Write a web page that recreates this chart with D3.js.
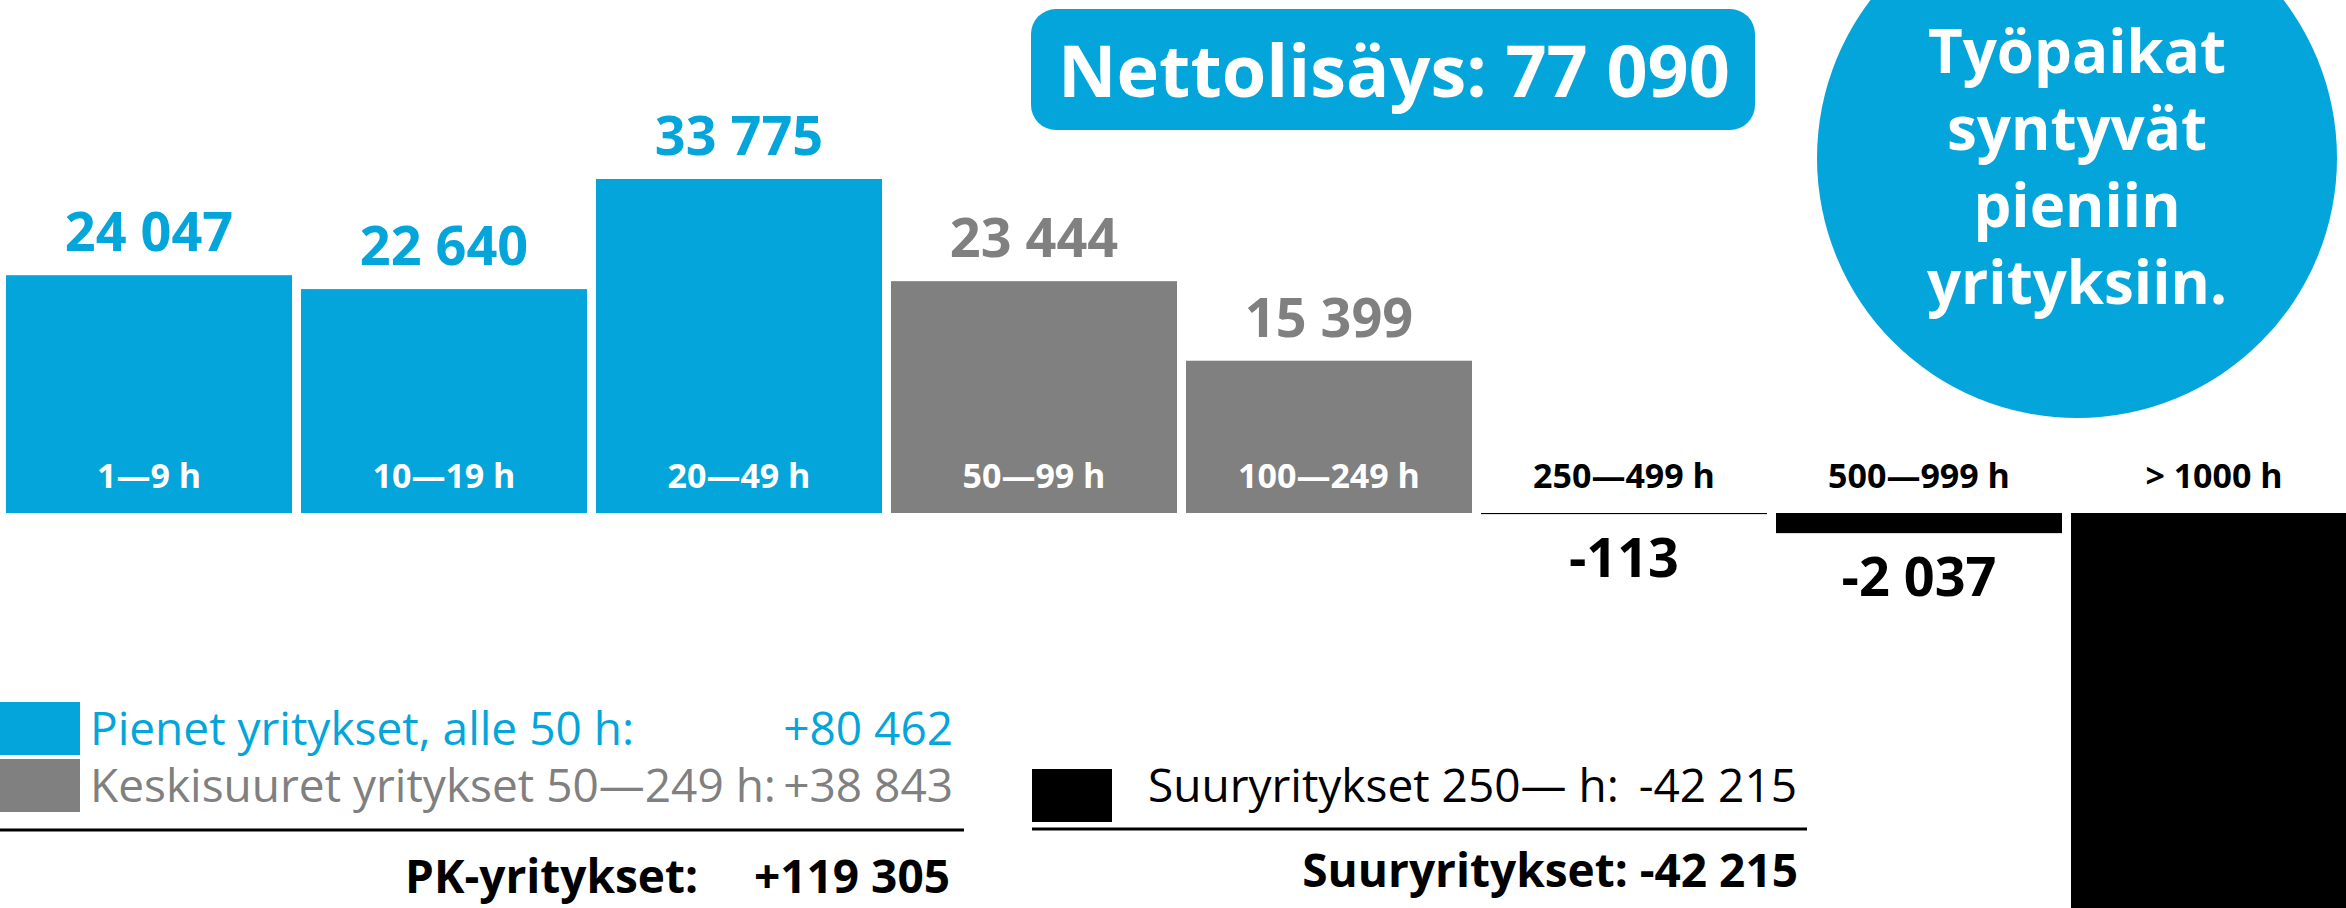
<!DOCTYPE html>
<html>
<head>
<meta charset="utf-8">
<script src="https://cdn.jsdelivr.net/npm/d3@7"></script>
<style>
  body { margin: 0; background: #fff; }
  svg { display: block; font-family: "Open Sans", sans-serif; }
</style>
</head>
<body>
<div id="chart"></div>
<script>
// job change by company size (henkilöä)
var categories = ["1—9 h", "10—19 h", "20—49 h", "50—99 h", "100—249 h", "250—499 h", "500—999 h", "> 1000 h"];
var values = [24047, 22640, 33775, 23444, 15399, -113, -2037, -40065];
var groups = ["pieni", "pieni", "pieni", "keski", "keski", "suuri", "suuri", "suuri"];

var legendGroups = ["pieni", "keski", "suuri"];
var legendLabels = ["Pienet yritykset, alle 50 h:", "Keskisuuret yritykset 50—249 h:", "Suuryritykset 250— h:"];
var headline = "Nettolisäys: ";
var bubbleLines = ["Työpaikat", "syntyvät", "pieniin", "yrityksiin."];

var width = 2346, height = 908;

var color = d3.scaleOrdinal()
    .domain(["pieni", "keski", "suuri"])
    .range(["#03a5da", "#808080", "#000000"]);

var fi = d3.formatLocale({decimal: ",", thousands: "\u00a0", grouping: [3], currency: ["", ""], minus: "-"});
var fmt = fi.format(",d");
var fmtSigned = function(v) { return (v > 0 ? "+" : "") + fmt(v); };

var data = categories.map(function(c, i) {
  return {cat: c, value: values[i], group: groups[i]};
});

var x = d3.scaleBand()
    .domain(categories)
    .range([6, 2357])
    .paddingInner(0.0305)
    .paddingOuter(0);

var y = d3.scaleLinear()
    .domain([0, 33775])
    .range([513, 179]);

var svg = d3.select("#chart").append("svg")
    .attr("width", width)
    .attr("height", height);

// bars
svg.selectAll(".bar")
    .data(data)
  .enter().append("rect")
    .attr("class", "bar")
    .attr("x", function(d) { return x(d.cat); })
    .attr("width", x.bandwidth())
    .attr("y", function(d) { return y(Math.max(0, d.value)); })
    .attr("height", function(d) { return Math.max(1, Math.abs(y(d.value) - y(0))); })
    .style("fill", function(d) { return color(d.group); });

// value labels (the big bar runs off the page, so its label is not shown)
function valY(d) { return d.value >= 0 ? y(d.value) - 24 : y(d.value) + 63; }

svg.selectAll(".val")
    .data(data.filter(function(d) { return valY(d) < height; }))
  .enter().append("text")
    .attr("class", "val")
    .attr("x", function(d) { return x(d.cat) + x.bandwidth() / 2; })
    .attr("y", valY)
    .attr("text-anchor", "middle")
    .style("font-size", "54px")
    .style("font-weight", "bold")
    .style("fill", function(d) { return color(d.group); })
    .text(function(d) { return fmt(d.value); });

// category labels
svg.selectAll(".cat")
    .data(data)
  .enter().append("text")
    .attr("class", "cat")
    .attr("x", function(d) { return x(d.cat) + x.bandwidth() / 2; })
    .attr("y", y(0) - 25)
    .attr("text-anchor", "middle")
    .style("font-size", "34px")
    .style("font-weight", "bold")
    .style("fill", function(d) { return d.value >= 0 ? "#fff" : "#000"; })
    .text(function(d) { return d.cat; });

// totals
var totals = legendGroups.map(function(g) {
  return d3.sum(data.filter(function(d) { return d.group == g; }), function(d) { return d.value; });
});
var pkTotal = totals[0] + totals[1];
var net = d3.sum(values);

// headline box
svg.append("rect")
    .attr("x", 1031).attr("y", 9)
    .attr("width", 724).attr("height", 121)
    .attr("rx", 25)
    .style("fill", color("pieni"));
svg.append("text")
    .attr("x", 1394).attr("y", 97)
    .attr("text-anchor", "middle")
    .style("font-size", "72px")
    .style("font-weight", "bold")
    .style("fill", "#fff")
    .text(headline + fmt(net));

// bubble
svg.append("circle")
    .attr("cx", 2077).attr("cy", 158).attr("r", 260)
    .style("fill", color("pieni"));
svg.selectAll(".bub")
    .data(bubbleLines)
  .enter().append("text")
    .attr("class", "bub")
    .attr("x", 2077)
    .attr("y", function(d, i) { return 73 + i * 77; })
    .attr("text-anchor", "middle")
    .style("font-size", "60px")
    .style("font-weight", "bold")
    .style("fill", "#fff")
    .text(function(d) { return d; });

// left legend (PK)
var legend = svg.append("g");
[0, 1].forEach(function(i) {
  var top = 702 + i * 57;
  legend.append("rect")
      .attr("x", 0).attr("y", top)
      .attr("width", 80).attr("height", 53)
      .style("fill", color(legendGroups[i]));
  legend.append("text")
      .attr("x", 90).attr("y", top + 43)
      .style("font-size", "46px")
      .style("fill", color(legendGroups[i]))
      .text(legendLabels[i]);
  legend.append("text")
      .attr("x", 953).attr("y", top + 43)
      .attr("text-anchor", "end")
      .style("font-size", "46px")
      .style("fill", color(legendGroups[i]))
      .text(fmtSigned(totals[i]));
});
legend.append("line")
    .attr("x1", 0).attr("x2", 964)
    .attr("y1", 830).attr("y2", 830)
    .style("stroke", "#000").style("stroke-width", 3);
legend.append("text")
    .attr("x", 405).attr("y", 893)
    .style("font-size", "46px").style("font-weight", "bold")
    .text("PK-yritykset:");
legend.append("text")
    .attr("x", 950).attr("y", 893)
    .attr("text-anchor", "end")
    .style("font-size", "46px").style("font-weight", "bold")
    .text(fmtSigned(pkTotal));

// right legend (suuret)
legend.append("rect")
    .attr("x", 1032).attr("y", 769)
    .attr("width", 80).attr("height", 53)
    .style("fill", color("suuri"));
legend.append("text")
    .attr("x", 1148).attr("y", 802)
    .style("font-size", "46px")
    .text(legendLabels[2]);
legend.append("text")
    .attr("x", 1797).attr("y", 802)
    .attr("text-anchor", "end")
    .style("font-size", "46px")
    .text(fmtSigned(totals[2]));
legend.append("line")
    .attr("x1", 1032).attr("x2", 1807)
    .attr("y1", 829).attr("y2", 829)
    .style("stroke", "#000").style("stroke-width", 3);
legend.append("text")
    .attr("x", 1798).attr("y", 887)
    .attr("text-anchor", "end")
    .style("font-size", "46px").style("font-weight", "bold")
    .text("Suuryritykset: " + fmtSigned(totals[2]));
</script>
</body>
</html>
